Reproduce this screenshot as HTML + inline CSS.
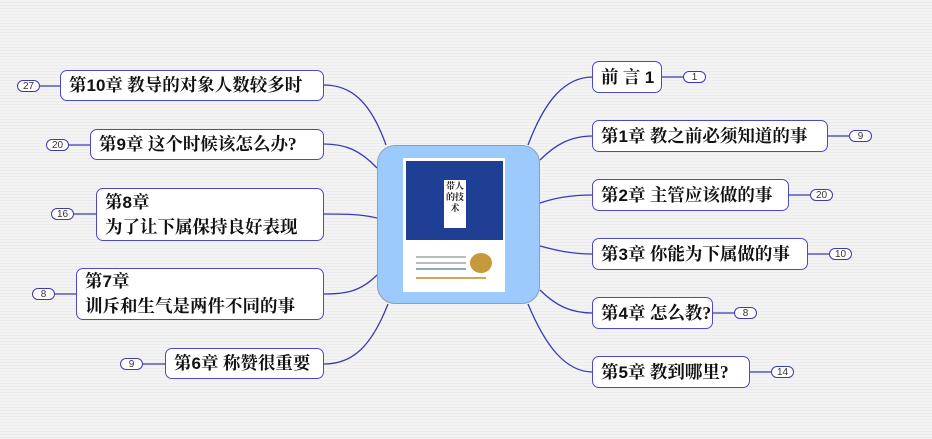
<!DOCTYPE html>
<html><head><meta charset="utf-8"><style>
body{margin:0;width:932px;height:439px;overflow:hidden;background:#f0f0f0;position:relative;
background-image:repeating-linear-gradient(180deg,#f3f3f3 0,#f3f3f3 2px,#ececec 2px,#ececec 3px);}
.n{position:absolute;box-sizing:border-box;border:1.5px solid #4a4ac8;border-radius:7px;background:#fff;
font-family:"Liberation Serif","Noto Serif CJK SC",serif;font-weight:bold;font-size:17.5px;color:#111;
padding:0 8px;line-height:25px;display:flex;flex-direction:column;justify-content:center;white-space:nowrap}
.n span{display:block}
.n b{font-family:"Liberation Sans",sans-serif;font-size:17px}
.b{position:absolute;box-sizing:border-box;width:23px;height:12px;border:1.3px solid #3a3ab8;border-radius:6px;background:#fff;
font-family:"Liberation Sans",sans-serif;font-size:10px;line-height:11px;text-align:center;color:#333}
svg{position:absolute;left:0;top:0}
</style></head><body>
<svg width="932" height="439" fill="none" stroke="#3a3ab8" stroke-width="1.3">
<path d="M386,145 C370,100 350,85 324,85"/>
<path d="M377,168 C360,150 345,144 324,144"/>
<path d="M377,218 C360,214 345,214 324,214"/>
<path d="M377,275 C360,292 345,294 324,294"/>
<path d="M388,304 C370,350 350,364 324,364"/>
<path d="M528,145 C545,100 565,77 593,77"/>
<path d="M540,160 C555,145 570,136 593,136"/>
<path d="M540,203 C555,198 570,195 593,195"/>
<path d="M540,246 C555,250 570,254 593,254"/>
<path d="M540,290 C555,305 570,313 593,313"/>
<path d="M528,304 C545,345 565,372 593,372"/>
<path d="M40,86H60M69,145H90M74,214H96M55,294H76M143,364H165"/>
<path d="M662,77H683M828,136H849M789,195H810M808,254H829M713,313H734M750,372H771"/>
</svg>
<div style="position:absolute;left:377px;top:145px;width:163px;height:159px;box-sizing:border-box;background:#9ccafc;border:1.5px solid #8aa0b8;border-radius:18px"></div>
<div style="position:absolute;left:403px;top:158px;width:102px;height:134px;background:#fff"></div>
<div style="position:absolute;left:406px;top:161px;width:97px;height:79px;background:#1e3f94"></div>
<div style="position:absolute;left:444px;top:180px;width:22px;height:48px;background:#fff;font:bold 9px 'Noto Serif CJK SC',serif;color:#222;text-align:center;line-height:11px">带人的技术</div>
<div style="position:absolute;left:470px;top:253px;width:22px;height:20px;border-radius:50%;background:#c49a3a"></div>
<div style="position:absolute;left:416px;top:256px;width:50px;height:2px;background:#bbb"></div>
<div style="position:absolute;left:416px;top:262px;width:50px;height:2px;background:#bbb"></div>
<div style="position:absolute;left:416px;top:268px;width:50px;height:2px;background:#8ab"></div>
<div style="position:absolute;left:416px;top:277px;width:70px;height:2px;background:#c9a85a"></div>

<div class="n" style="left:60px;top:70px;width:264px;height:31px"><span>第<b>10</b>章 教导的对象人数较多时</span></div>
<div class="n" style="left:90px;top:129px;width:234px;height:31px"><span>第<b>9</b>章 这个时候该怎么办?</span></div>
<div class="n" style="left:96px;top:188px;width:228px;height:53px"><span>第<b>8</b>章</span><span>为了让下属保持良好表现</span></div>
<div class="n" style="left:76px;top:268px;width:248px;height:52px"><span>第<b>7</b>章</span><span>训斥和生气是两件不同的事</span></div>
<div class="n" style="left:165px;top:348px;width:159px;height:31px"><span>第<b>6</b>章 称赞很重要</span></div>
<div class="n" style="left:592px;top:61px;width:70px;height:32px"><span>前 言 <b>1</b></span></div>
<div class="n" style="left:592px;top:120px;width:236px;height:32px"><span>第<b>1</b>章 教之前必须知道的事</span></div>
<div class="n" style="left:592px;top:179px;width:197px;height:32px"><span>第<b>2</b>章 主管应该做的事</span></div>
<div class="n" style="left:592px;top:238px;width:216px;height:32px"><span>第<b>3</b>章 你能为下属做的事</span></div>
<div class="n" style="left:592px;top:297px;width:121px;height:32px"><span>第<b>4</b>章 怎么教?</span></div>
<div class="n" style="left:592px;top:356px;width:158px;height:32px"><span>第<b>5</b>章 教到哪里?</span></div>

<div class="b" style="left:17px;top:80px">27</div>
<div class="b" style="left:46px;top:139px">20</div>
<div class="b" style="left:51px;top:208px">16</div>
<div class="b" style="left:32px;top:288px">8</div>
<div class="b" style="left:120px;top:358px">9</div>
<div class="b" style="left:683px;top:71px">1</div>
<div class="b" style="left:849px;top:130px">9</div>
<div class="b" style="left:810px;top:189px">20</div>
<div class="b" style="left:829px;top:248px">10</div>
<div class="b" style="left:734px;top:307px">8</div>
<div class="b" style="left:771px;top:366px">14</div>
</body></html>
